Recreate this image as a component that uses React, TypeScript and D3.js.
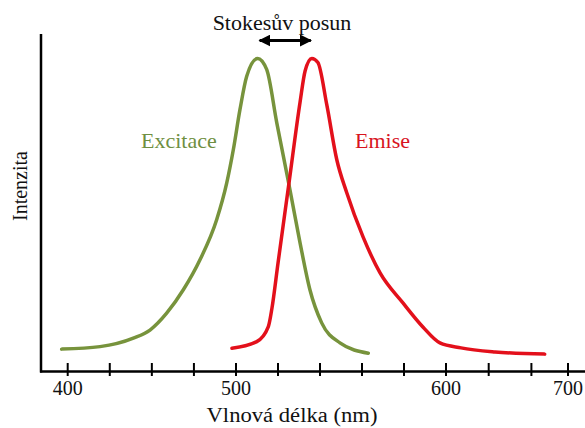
import React from "react";
import * as d3 from "d3";

// Axis: the reference axis is drawn non-uniformly, so a piecewise linear scale is used
const majorTicks = [400, 500, 600, 700];
const minorTicks = [425, 450, 475, 520, 540, 560, 580, 635, 670];

// Excitation spectrum (wavelength nm, relative intensity)
const excWavelength = [396.4, 419.2, 439.0, 448.9, 458.8, 468.7, 478.6, 488.5, 494.5, 498.4, 501.9, 505.1, 510.3, 514.6, 519.4, 525.7, 530.5, 535.2, 540.8, 549.5, 563.0];
const excIntensity = [0.07, 0.078, 0.105, 0.131, 0.185, 0.26, 0.356, 0.484, 0.602, 0.708, 0.837, 0.943, 1.0, 0.965, 0.795, 0.58, 0.41, 0.26, 0.154, 0.09, 0.057];

// Emission spectrum
const emWavelength = [497.6, 509.9, 515.4, 517.1, 520.0, 525.2, 530.5, 532.9, 536.1, 539.0, 543.2, 548.0, 552.7, 560.5, 568.6, 579.5, 589.0, 597.1, 612.3, 640.2, 680.9];
const emIntensity = [0.073, 0.094, 0.142, 0.2, 0.345, 0.6, 0.86, 0.96, 1.0, 0.987, 0.853, 0.676, 0.571, 0.429, 0.314, 0.218, 0.141, 0.09, 0.074, 0.061, 0.054];

const W = 585;
const H = 428;
const FONT = "Liberation Serif, Times New Roman, DejaVu Serif, serif";

export default function App() {
  const x = d3.scaleLinear().domain([400, 500, 600, 700]).range([67.7, 236, 446, 568]);
  const y = d3.scaleLinear().domain([0, 1]).range([371, 58.5]);

  const line = d3
    .line<[number, number]>()
    .x((d) => x(d[0]))
    .y((d) => y(d[1]))
    .curve(d3.curveMonotoneX);

  const exc = excWavelength.map((w, i) => [w, excIntensity[i]] as [number, number]);
  const em = emWavelength.map((w, i) => [w, emIntensity[i]] as [number, number]);

  const axisY = 371.5;
  const axisX = 41;
  const ts = { fontFamily: FONT };

  return (
    <svg
      width={W}
      height={H}
      style={{ position: "fixed", left: 0, top: 0, background: "#fff", fontFamily: FONT }}
    >
      <defs>
        <marker id="ah" viewBox="0 0 10 10" refX="9" refY="5" markerWidth="4" markerHeight="4" orient="auto-start-reverse">
          <path d="M0,0 L10,5 L0,10 z" fill="#000" />
        </marker>
      </defs>
      <rect width={W} height={H} fill="#fff" />

      {/* axes */}
      <line x1={axisX} y1={34} x2={axisX} y2={axisY + 1} stroke="#000" strokeWidth={2.5} />
      <line x1={axisX - 1} y1={axisY} x2={W} y2={axisY} stroke="#000" strokeWidth={2.5} />
      {[...majorTicks, ...minorTicks].map((t) => (
        <line key={t} x1={x(t)} x2={x(t)} y1={363} y2={376} stroke="#000" strokeWidth={2} />
      ))}
      {majorTicks.map((t) => (
        <text key={"l" + t} x={x(t)} y={395} fontSize={20} textAnchor="middle" fill="#111" style={ts}>
          {t}
        </text>
      ))}

      {/* axis titles */}
      <text x={292} y={422} fontSize={20} textAnchor="middle" fill="#111" textLength={171} lengthAdjust="spacingAndGlyphs" style={ts}>
        Vlnová délka (nm)
      </text>
      <text transform="translate(26.5,186) rotate(-90)" fontSize={20} textAnchor="middle" fill="#111" style={ts}>
        Intenzita
      </text>

      {/* curves */}
      <path d={line(exc) || ""} fill="none" stroke="#77933c" strokeWidth={3.5} strokeLinecap="round" />
      <path d={line(em) || ""} fill="none" stroke="#e3101b" strokeWidth={3.5} strokeLinecap="round" />

      {/* labels */}
      <text x={141} y={148} fontSize={22} fill="#6f8f42" style={ts}>Excitace</text>
      <text x={355} y={148} fontSize={22} fill="#d8141e" style={ts}>Emise</text>

      {/* Stokes shift */}
      <text x={282} y={30} fontSize={22} textAnchor="middle" fill="#111" style={ts}>
        Stokesův posun
      </text>
      <line x1={x(510.3) + 2} x2={x(536.1) - 1} y1={40.5} y2={40.5} stroke="#000" strokeWidth={3}
        markerStart="url(#ah)" markerEnd="url(#ah)" />
    </svg>
  );
}
